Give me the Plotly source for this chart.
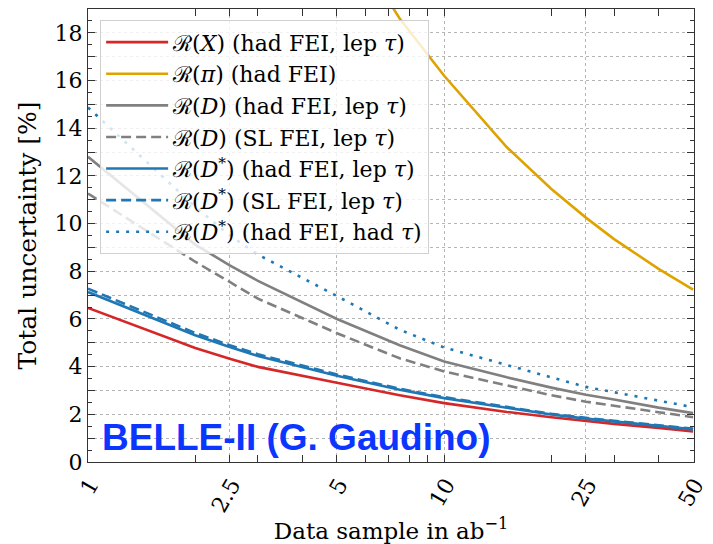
import plotly.graph_objects as go

# ---- data ----
lumi = [1, 2, 2.5, 3, 5, 7.5, 10, 15, 20, 25, 30, 40, 50]
r_x_had_lep = [6.46, 4.78, 4.33, 3.99, 3.32, 2.80, 2.47, 2.10, 1.88, 1.72, 1.60, 1.43, 1.28]
r_d_had_lep = [12.8, 9.12, 8.25, 7.6, 6.0, 4.9, 4.22, 3.55, 3.12, 2.82, 2.62, 2.28, 2.05]
r_d_sl_lep = [11.26, 8.4, 7.55, 6.85, 5.4, 4.35, 3.80, 3.20, 2.80, 2.53, 2.35, 2.09, 1.88]
r_dst_had_lep = [7.13, 5.32, 4.82, 4.45, 3.62, 3.03, 2.68, 2.28, 1.99, 1.82, 1.70, 1.52, 1.37]
r_dst_sl_lep = [7.27, 5.41, 4.90, 4.52, 3.67, 3.07, 2.72, 2.31, 2.02, 1.85, 1.73, 1.55, 1.40]
r_dst_had_had = [14.87, 10.7, 9.5, 8.7, 6.96, 5.55, 4.80, 4.05, 3.55, 3.15, 2.93, 2.57, 2.30]

lumi_pi = [5, 7.5, 10, 15, 20, 25, 30, 40, 50]
r_pi_had = [22.8, 18.6, 16.2, 13.2, 11.45, 10.25, 9.35, 8.1, 7.23]

x_ticks = [1, 2.5, 5, 10, 25, 50]
x_tick_labels = ["1", "2.5", "5", "10", "25", "50"]
x_minor = [2, 3, 4, 6, 7, 8, 9, 20, 30, 40]
y_ticks = [0, 2, 4, 6, 8, 10, 12, 14, 16, 18]
y_tick_labels = ["0", "2", "4", "6", "8", "10", "12", "14", "16", "18"]
y_odd_ticks = [1, 3, 5, 7, 9, 11, 13, 15, 17, 19]

names = [
    "ℛ(<i>X</i>) (had FEI, lep <i>τ</i>)",
    "ℛ(<i>π</i>) (had FEI)",
    "ℛ(<i>D</i>) (had FEI, lep <i>τ</i>)",
    "ℛ(<i>D</i>) (SL FEI, lep <i>τ</i>)",
    "ℛ(<i>D</i><sup>*</sup>) (had FEI, lep <i>τ</i>)",
    "ℛ(<i>D</i><sup>*</sup>) (SL FEI, lep <i>τ</i>)",
    "ℛ(<i>D</i><sup>*</sup>) (had FEI, had <i>τ</i>)",
]

RED = "#d62728"
GOLD = "#dfa300"
GRAY = "#808080"
BLUE = "#1f77b4"
LW = 2.6

def ln(color, dash="solid"):
    return dict(color=color, width=LW, dash=dash)

fig = go.Figure()
fig.add_trace(go.Scatter(x=lumi, y=r_x_had_lep, mode="lines", name=names[0], line=ln(RED)))
fig.add_trace(go.Scatter(x=lumi_pi, y=r_pi_had, mode="lines", name=names[1], line=ln(GOLD)))
fig.add_trace(go.Scatter(x=lumi, y=r_d_had_lep, mode="lines", name=names[2], line=ln(GRAY)))
fig.add_trace(go.Scatter(x=lumi, y=r_d_sl_lep, mode="lines", name=names[3], line=ln(GRAY, "10px,5px")))
fig.add_trace(go.Scatter(x=lumi, y=r_dst_had_lep, mode="lines", name=names[4], line=ln(BLUE)))
fig.add_trace(go.Scatter(x=lumi, y=r_dst_sl_lep, mode="lines", name=names[5], line=ln(BLUE, "10px,5px")))
fig.add_trace(go.Scatter(x=lumi, y=r_dst_had_had, mode="lines", name=names[6], line=ln(BLUE, "3px,7px")))

GRID = dict(showgrid=True, gridcolor="#b5b5b5", griddash="dot", gridwidth=0.8)
TICKS = dict(ticks="inside", ticklen=7, tickwidth=1.1, tickcolor="#333", mirror="allticks")

fig.update_layout(
    width=713, height=544,
    margin=dict(l=88, r=19, t=9, b=82),
    paper_bgcolor="white", plot_bgcolor="white",
    font=dict(family="DejaVu Serif", size=22, color="black"),
    xaxis=dict(
        type="log", range=[0, 1.7015], automargin=False,
        tickmode="array", tickvals=x_ticks, ticktext=x_tick_labels,
        tickangle=-60, ticklabelshift=2, ticklabeloverflow="allow",
        tickfont=dict(family="DejaVu Serif", size=22, color="black"),
        minor=dict(tickmode="array", tickvals=x_minor, ticks="inside", ticklen=4,
                   tickcolor="#333", showgrid=False),
        showline=True, linecolor="#333", linewidth=1.3, zeroline=False,
        title=dict(text="Data sample in ab<sup>−1</sup>",
                   font=dict(family="DejaVu Serif", size=23, color="black"),
                   standoff=20),
        **GRID, **TICKS,
    ),
    yaxis=dict(
        range=[0, 19], automargin=False,
        tickmode="array", tickvals=y_ticks, ticktext=y_tick_labels,
        tickfont=dict(family="DejaVu Serif", size=22, color="black"),
        minor=dict(dtick=0.5, ticks="inside", ticklen=4, tickcolor="#333", showgrid=False),
        showline=True, linecolor="#333", linewidth=1.3, zeroline=False,
        title=dict(text="Total uncertainty [%]",
                   font=dict(family="DejaVu Serif", size=25, color="black"),
                   standoff=10),
        **GRID, **TICKS,
    ),
    yaxis2=dict(
        range=[0, 19], overlaying="y", side="left", automargin=False,
        tickmode="array", tickvals=y_odd_ticks, showticklabels=False,
        showline=False, zeroline=False,
        **GRID, **TICKS,
    ),
    showlegend=True,
    legend=dict(
        x=0.02, y=0.975, xanchor="left", yanchor="top",
        bgcolor="rgba(255,255,255,0.8)", bordercolor="#d0d0d0", borderwidth=1,
        font=dict(family="DejaVu Serif", size=22, color="black"),
        itemwidth=62, tracegroupgap=0,
    ),
)

# invisible helper trace so the odd-integer grid axis is drawn
fig.add_trace(go.Scatter(x=[1, 50], y=[0, 0], yaxis="y2", mode="lines",
                         line=dict(width=0), showlegend=False, hoverinfo="skip"))

fig.add_annotation(
    xref="paper", yref="paper", x=0.02, y=0.005, xanchor="left", yanchor="bottom",
    text="<b>BELLE-II (G. Gaudino)</b>", showarrow=False,
    font=dict(family="Liberation Sans", size=37, color="#0a36ff"),
)

fig.write_html("out.html", config={"displayModeBar": False},
               post_script="document.body.style.margin='0';")
